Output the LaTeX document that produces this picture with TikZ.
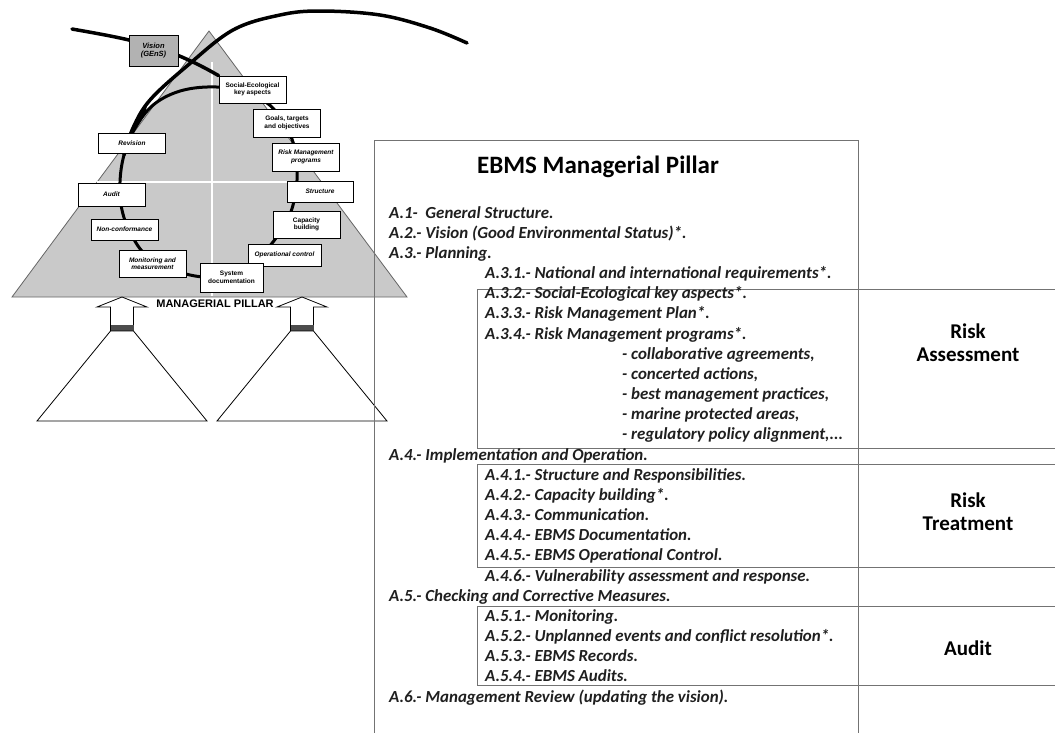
\documentclass[tikz,border=0pt]{standalone}
\usepackage{fontspec}
\setmainfont{Carlito}
\newfontfamily\arialfont{Liberation Sans}
\usetikzlibrary{arrows, positioning}

\tikzset{
    stage/.style={draw=black, fill=white, line width=0.8pt, minimum width=67pt,
        minimum height=21pt, align=center, inner sep=1pt,
        font=\arialfont\fontsize{6.5}{7.5}\selectfont\bfseries\itshape},
    item/.style={anchor=base west, inner sep=0pt, text=black!88,
        font=\fontsize{16.9}{19}\selectfont\bfseries\itshape},
    frame/.style={draw=black!55, line width=0.8pt},
    phase/.style={align=center, font=\fontsize{21}{23}\selectfont\bfseries},
    pillar/.style={draw=black, fill=white, line width=0.8pt},
    heavy/.style={draw=black, line width=3.5pt, line cap=round}
}

\begin{document}
\begin{tikzpicture}[x=1pt, y=-1pt]
    \path[use as bounding box, fill=white] (0,0) rectangle (1055,732);
    \clip (0,0) rectangle (1055,732);

    % managerial pillar
    \filldraw[fill=black!21, draw=black!60, line width=0.8pt]
        (209,31) -- (407,297) -- (12,297) -- cycle;
    \draw[white, line width=2.5pt] (212,62) -- (212,296);
    \draw[white, line width=2.5pt] (97,182) -- (322,182);

    \draw[black, line width=3pt] plot[smooth cycle, tension=0.6] coordinates {
        (240,90) (267,103) (282,120) (293,142) (297,166) (296,190) (290,214)
        (276,238) (258,258) (232,276) (190,275) (150,258) (132,236)
        (122,210) (120,182) (124,155) (134,130) (152,106) (177,92) (207,87)};
    \draw[heavy] plot[smooth, tension=0.6] coordinates {
        (124,155) (133,128) (150,100) (187,66) (233,30) (280,15) (320,11)
        (380,15) (430,28) (467,43)};
    \draw[black, line width=2pt, -latex] (137,124) -- (147,106);

    \coordinate (vstart) at (72,29);

    \node[stage] (soc) at (252.5,89.5) [minimum height=27pt, font=\arialfont\fontsize{6.5}{7.5}\selectfont\bfseries]
        {Social-Ecological\\key aspects};
    \draw[heavy] (vstart) to[out=-10, in=150] (soc.north west);
    \node[stage, fill=black!30, minimum width=49pt, minimum height=31pt,
        font=\arialfont\fontsize{7.5}{8.5}\selectfont\bfseries\itshape] (vision) at (153.5,50.5)
        {Vision\\(GEnS)};
    \node[stage, minimum height=28pt, font=\arialfont\fontsize{6.5}{7.5}\selectfont\bfseries] (goals)
        at (287,123) {Goals, targets\\and objectives};
    \node[stage, minimum height=28pt] (rmp) at (306,157) {Risk Management\\programs};
    \node[stage, minimum width=66pt] (struct) at (320,191.5) {Structure};
    \node[stage, minimum height=27pt, font=\arialfont\fontsize{6.5}{7.5}\selectfont\bfseries] (cap)
        at (306.5,224.5) {Capacity\\building};
    \node[stage, minimum width=73pt, minimum height=22pt] (opc) at (284.5,255) {Operational control};
    \node[stage, minimum width=63pt, minimum height=29pt, font=\arialfont\fontsize{6.5}{7.5}\selectfont\bfseries]
        (sysdoc) at (231.5,277.5) {System\\documentation};
    \node[stage, minimum height=27pt] (monit) at (152.5,263.5) {Monitoring and\\measurement};
    \node[stage] (noncon) at (124.5,229.5) {Non-conformance};
    \node[stage, minimum height=23pt] (audit) at (111.5,194.5) {Audit};
    \node[stage, minimum height=20pt] (revis) at (132,143) {Revision};

    \node[font=\arialfont\fontsize{11}{12}\selectfont\bfseries, inner sep=0pt] (mp) at (215,304)
        {MANAGERIAL PILLAR};

    % pillar arrows
    \foreach \c in {122, 302} {
        \filldraw[pillar] (\c,297) -- (\c+25,307) -- (\c+11.5,307) -- (\c+11.5,331)
            -- (\c-11.5,331) -- (\c-11.5,307) -- (\c-25,307) -- cycle;
        \fill[black!70] (\c-11.5,325) rectangle (\c+11.5,331);
        \draw[pillar] (\c-11.5,331) -- (\c+11.5,331) -- (\c+85,421) -- (\c-85,421) -- cycle;
    }

    % EBMS table
    \draw[frame] (374,140) rectangle (858,760);
    \draw[frame] (477,289) rectangle (1060,448);
    \draw[frame] (477,464) rectangle (1060,567);
    \draw[frame] (477,606) rectangle (1060,685);

    \node[font=\fontsize{25}{29}\selectfont\bfseries] (title) at (598,167) {EBMS Managerial Pillar};

    \foreach \x/\txt [count=\i] in {
        389/{A.1-\ \ General Structure.},
        389/{A.2.- Vision (Good Environmental Status)*.},
        389/{A.3.- Planning.},
        485/{A.3.1.- National and international requirements*.},
        485/{A.3.2.- Social-Ecological key aspects*.},
        485/{A.3.3.- Risk Management Plan*.},
        485/{A.3.4.- Risk Management programs*.},
        622/{- collaborative agreements,},
        622/{- concerted actions,},
        622/{- best management practices,},
        622/{- marine protected areas,},
        622/{- regulatory policy alignment,...},
        389/{A.4.- Implementation and Operation.},
        485/{A.4.1.- Structure and Responsibilities.},
        485/{A.4.2.- Capacity building*.},
        485/{A.4.3.- Communication.},
        485/{A.4.4.- EBMS Documentation.},
        485/{A.4.5.- EBMS Operational Control.},
        485/{A.4.6.- Vulnerability assessment and response.},
        389/{A.5.- Checking and Corrective Measures.},
        485/{A.5.1.- Monitoring.},
        485/{A.5.2.- Unplanned events and conflict resolution*.},
        485/{A.5.3.- EBMS Records.},
        485/{A.5.4.- EBMS Audits.},
        389/{A.6.- Management Review (updating the vision).}
    } {
        \node[item] (it\i) at (\x, {218+(\i-1)*20.17}) {\txt};
    }

    \node[phase] (assess) at (968,343) {Risk\\Assessment};
    \node[phase] (treat) at (968,512) {Risk\\Treatment};
    \node[phase] (auditph) at (968,648) {Audit};
\end{tikzpicture}
\end{document}
